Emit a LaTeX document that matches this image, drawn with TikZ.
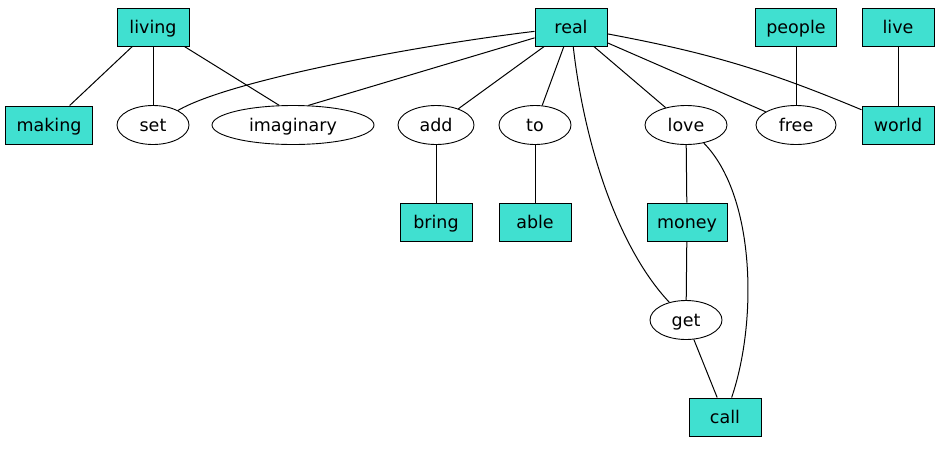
\documentclass[tikz,border=0pt]{standalone}
\usepackage{fontspec}
\setmainfont{DejaVu Sans}
\usetikzlibrary{shapes.geometric}
\definecolor{turq}{HTML}{40E0D0}
\begin{document}
\begin{tikzpicture}[x=1pt,y=-1pt,
  every node/.style={font=\fontsize{17.5}{20}\selectfont, inner sep=0pt, text height=14pt, text depth=2pt},
  boxnode/.style={draw=black, fill=turq, rectangle, minimum height=38pt, line width=1pt},
  ellnode/.style={draw=black, ellipse, minimum height=39pt, line width=0.9pt},
  edge/.style={draw=black, line width=1pt}]
\useasboundingbox (0,0) rectangle (941,448);
% row 1
\node[boxnode, minimum width=72pt] (living) at (153,27) {living};
\node[boxnode, minimum width=72pt] (real) at (571,27) {real};
\node[boxnode, minimum width=81pt] (people) at (796,27) {people};
\node[boxnode, minimum width=72pt] (live) at (898,27) {live};
% row 2
\node[boxnode, minimum width=87pt] (making) at (49,125) {making};
\node[ellnode, minimum width=72pt] (set) at (153,125) {set};
\node[ellnode, minimum width=162pt] (imaginary) at (293,125) {imaginary};
\node[ellnode, minimum width=76pt] (add) at (436,125) {add};
\node[ellnode, minimum width=72pt] (to) at (535,125) {to};
\node[ellnode, minimum width=82pt] (love) at (686,125) {love};
\node[ellnode, minimum width=80pt] (free) at (796,125) {free};
\node[boxnode, minimum width=72pt] (world) at (898,125) {world};
% row 3
\node[boxnode, minimum width=72pt] (bring) at (436,222) {bring};
\node[boxnode, minimum width=72pt] (able) at (535,222) {able};
\node[boxnode, minimum width=80pt] (money) at (687,222) {money};
% row 4
\node[ellnode, minimum width=72pt] (get) at (686,320) {get};
% row 5
\node[boxnode, minimum width=72pt] (call) at (725,417) {call};
% edges
\draw[edge] (living) -- (making);
\draw[edge] (living) -- (set);
\draw[edge] (living) -- (imaginary.125);
\draw[edge] (real) .. controls (420,45) and (230,80) .. (set);
\draw[edge] (real) -- (imaginary.52);
\draw[edge] (real) -- (add);
\draw[edge] (real) -- (to);
\draw[edge] (real) -- (love);
\draw[edge] (real) -- (free);
\draw[edge] (real) to[bend left=6] (world);
\draw[edge] (real) .. controls (585,150) and (620,250) .. (get);
\draw[edge] (people) -- (free);
\draw[edge] (live) -- (world);
\draw[edge] (add) -- (bring);
\draw[edge] (to) -- (able);
\draw[edge] (love) -- (money);
\draw[edge] (money) -- (get);
\draw[edge] (get) -- (call);
\draw[edge] (love) .. controls (755,195) and (758,320) .. (call);
\end{tikzpicture}
\end{document}
